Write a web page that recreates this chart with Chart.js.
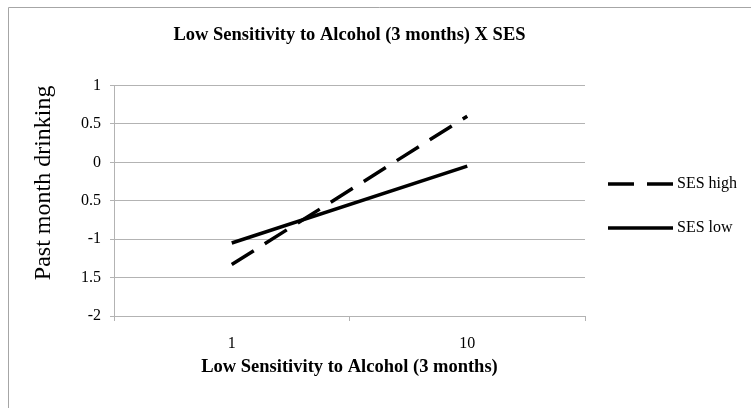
<!DOCTYPE html>
<html>
<head>
<meta charset="utf-8">
<script src="https://cdn.jsdelivr.net/npm/chart.js@4.4.0/dist/chart.umd.min.js"></script>
<style>
  html, body { margin: 0; padding: 0; background: #fff; }
</style>
</head>
<body>
<canvas id="chart" width="751" height="408"></canvas>
<script>
// data
const categories = ['1', '10'];
const sesHigh = [-1.33, 0.6];
const sesLow = [-1.05, -0.05];
const yTickValues = [-2, -1.5, -1, -0.5, 0, 0.5, 1];
const yTickLabels = ['-2', '1.5', '-1', '0.5', '0', '0.5', '1']; // as printed in the original

const serif = "'Liberation Serif', 'Times New Roman', serif";
const gridGray = '#b3b3b3';

// grey frame at top / left like the pasted Excel chart
const framePlugin = {
    id: 'frame',
    beforeDraw(chart) {
        const ctx = chart.ctx;
        ctx.save();
        ctx.strokeStyle = '#a6a6a6';
        ctx.lineWidth = 1;
        ctx.beginPath();
        ctx.moveTo(8.5, 408);
        ctx.lineTo(8.5, 7.5);
        ctx.lineTo(751, 7.5);
        ctx.stroke();
        ctx.restore();
    }
};

// legend on the right, drawn from the dataset styles
const sideLegend = {
    id: 'sideLegend',
    afterDraw(chart) {
        const ctx = chart.ctx;
        const x0 = chart.chartArea.right + 23;
        const rows = [184, 228];
        ctx.save();
        chart.data.datasets.forEach((ds, i) => {
            const y = rows[i];
            ctx.strokeStyle = ds.borderColor;
            ctx.lineWidth = ds.borderWidth;
            ctx.setLineDash(ds.borderDash || []);
            ctx.beginPath();
            ctx.moveTo(x0, y);
            ctx.lineTo(x0 + 65, y);
            ctx.stroke();
            ctx.setLineDash([]);
            ctx.fillStyle = '#000';
            ctx.font = '16px ' + serif;
            ctx.textBaseline = 'middle';
            ctx.fillText(ds.label, x0 + 69, y);
        });
        ctx.restore();
    }
};

const ctx = document.getElementById('chart');
const chart = new Chart(ctx, {
    type: 'line',
    data: {
        labels: categories,
        datasets: [
            {
                label: 'SES high',
                data: sesHigh,
                borderColor: '#000',
                borderWidth: 3.5,
                borderDash: [26, 13],
                borderCapStyle: 'butt',
                pointRadius: 0,
                fill: false,
                tension: 0
            },
            {
                label: 'SES low',
                data: sesLow,
                borderColor: '#000',
                borderWidth: 3.5,
                borderCapStyle: 'butt',
                pointRadius: 0,
                fill: false,
                tension: 0
            }
        ]
    },
    options: {
        responsive: false,
        animation: false,
        devicePixelRatio: 1,
        layout: { padding: { left: 0, right: 166, top: 0, bottom: 0 } },
        plugins: {
            legend: { display: false },
            tooltip: { enabled: false },
            title: {
                display: true,
                text: 'Low Sensitivity to Alcohol (3 months) X SES',
                fullSize: false,
                color: '#000',
                font: { family: serif, size: 18.5, weight: 'bold', lineHeight: 1.2 },
                padding: { top: 24, bottom: 39.3 }
            }
        },
        scales: {
            x: {
                offset: true,
                grid: {
                    offset: true,
                    drawOnChartArea: false,
                    color: gridGray,
                    tickLength: 5
                },
                border: { color: gridGray },
                ticks: {
                    color: '#000',
                    padding: 13,
                    maxRotation: 0,
                    font: { family: serif, size: 16 }
                },
                title: {
                    display: true,
                    text: 'Low Sensitivity to Alcohol (3 months)',
                    color: '#000',
                    font: { family: serif, size: 18.5, weight: 'bold', lineHeight: 1.2 },
                    padding: { top: 0, bottom: 30 }
                },
                afterFit(scale) { scale.height = 92; }
            },
            y: {
                min: -2,
                max: 1,
                grid: { color: gridGray, tickLength: 4 },
                border: { color: gridGray },
                ticks: {
                    stepSize: 0.5,
                    color: '#000',
                    padding: 9,
                    font: { family: serif, size: 16 },
                    callback: function(value) {
                        const i = yTickValues.indexOf(value);
                        return i >= 0 ? yTickLabels[i] : '';
                    }
                },
                title: {
                    display: true,
                    text: 'Past month drinking',
                    align: 'end',
                    color: '#000',
                    font: { family: serif, size: 24, lineHeight: 1.2 },
                    padding: { top: 29, bottom: 0 }
                },
                afterFit(scale) { scale.width = 114; }
            }
        }
    },
    plugins: [framePlugin, sideLegend]
});
</script>
</body>
</html>
